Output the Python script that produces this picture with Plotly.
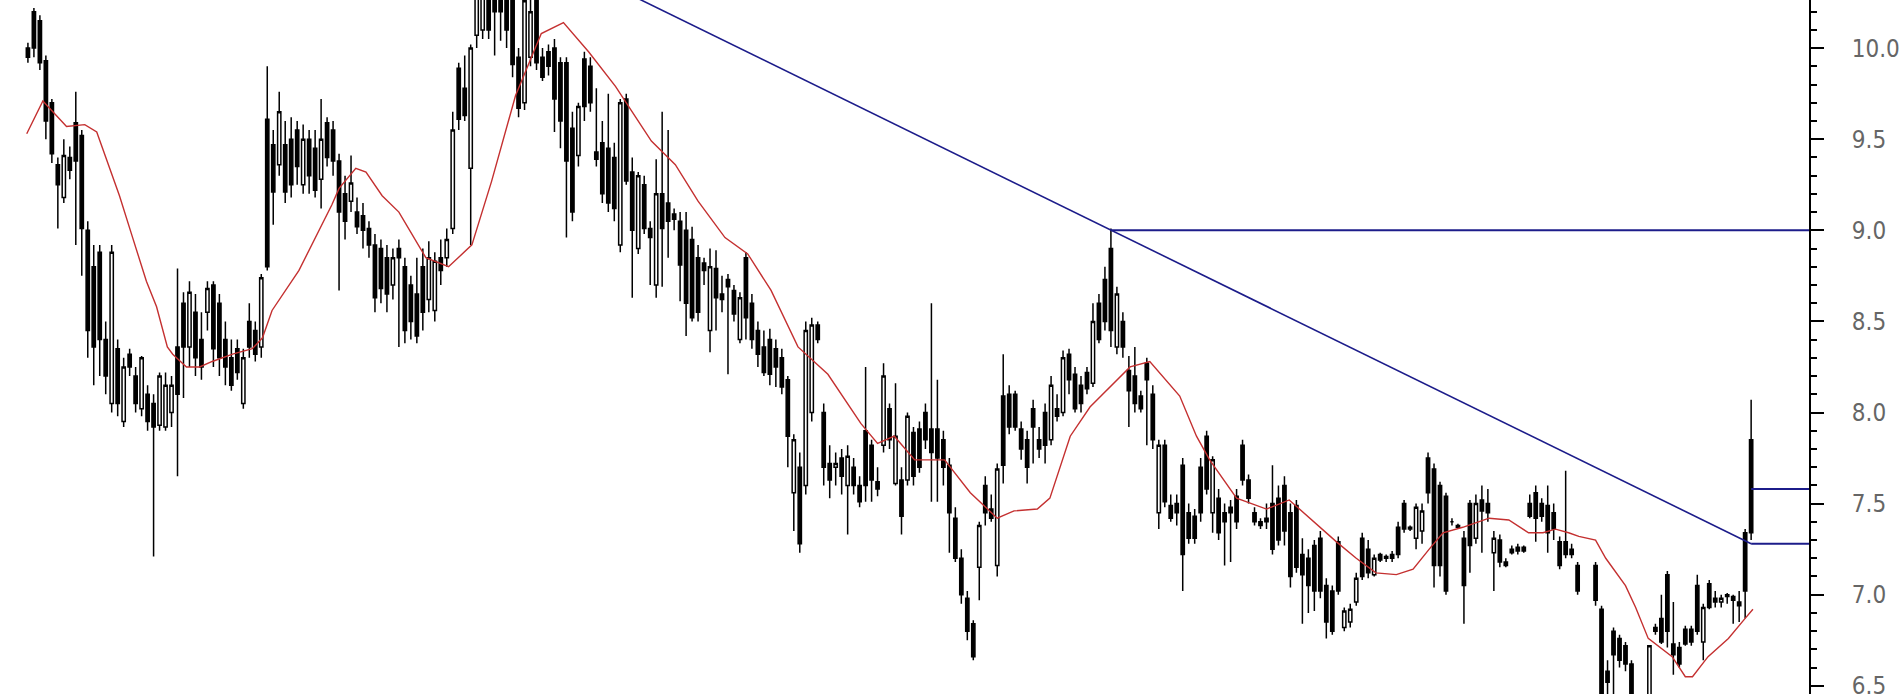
import plotly.graph_objects as go

# ---- candle data (index = trading day) ----
OPEN = [
 10.00,10.20,10.15,9.93,9.70,9.36,9.18,9.40,9.59,9.52,
 9.00,8.80,8.88,8.40,8.05,8.35,7.95,8.32,8.20,8.02,
 8.10,8.05,7.93,7.92,8.00,8.36,8.60,8.36,8.55,8.40,
 8.55,8.70,8.60,8.40,8.30,8.35,8.05,8.50,8.45,8.36,
 9.61,9.47,9.36,9.47,9.50,9.55,9.25,9.50,9.45,9.28,
 9.59,9.55,9.38,9.20,9.16,9.10,9.08,9.01,8.92,8.90,
 8.85,8.70,8.90,8.80,8.70,8.65,8.80,8.62,8.56,8.85,
 8.85,9.01,9.89,9.78,9.34,10.07,10.10,10.35,10.30,10.35,
 10.35,10.30,9.95,9.70,9.95,10.26,9.95,9.98,10.00,9.92,
 9.92,9.56,9.41,9.94,9.90,9.43,9.48,9.45,9.40,8.92,
 9.72,9.32,8.90,9.25,9.01,8.70,9.20,9.15,9.09,9.05,
 9.00,8.95,8.85,8.82,8.45,8.79,8.65,8.73,8.67,8.40,
 8.85,8.60,8.45,8.36,8.40,8.35,8.30,8.18,7.56,7.70,
 7.60,8.00,8.48,8.00,7.72,7.70,7.75,7.60,7.70,7.60,
 7.90,7.82,7.62,7.82,8.02,7.61,7.63,7.63,7.89,7.91,
 8.00,7.91,7.91,7.85,7.71,7.42,7.20,6.98,6.84,7.15,
 7.60,7.47,7.16,8.09,8.10,8.10,7.91,7.85,8.02,7.85,
 8.00,7.85,8.02,8.00,8.32,8.21,8.15,8.22,8.16,8.60,
 8.73,8.90,8.36,8.50,8.23,8.20,8.09,8.27,8.10,7.45,
 7.82,7.49,7.50,7.71,7.45,7.43,7.70,7.87,7.45,7.53,
 7.45,7.48,7.54,7.82,7.63,7.45,7.40,7.42,7.50,7.53,
 7.60,7.45,7.49,7.22,7.20,7.27,7.31,7.05,7.02,7.29,
 6.82,6.85,6.96,7.31,7.25,7.11,7.22,7.20,7.22,7.37,
 7.50,7.37,7.31,7.35,7.75,7.69,7.60,7.54,7.40,7.38,
 7.31,7.50,7.31,7.52,7.50,7.23,7.30,7.18,7.25,7.26,
 7.26,7.50,7.56,7.50,7.49,7.45,7.29,7.29,7.25,7.16,
 None,None,7.16,6.92,6.58,6.80,6.76,6.72,6.62,None,
 None,6.45,6.82,6.87,7.11,6.73,6.71,6.81,6.81,7.05,
 6.74,7.06,6.98,6.96,7.00,6.99,6.96,7.34,7.85,
]
HIGH = [
 10.03,10.22,10.18,9.96,9.72,9.40,9.50,9.46,9.76,9.55,
 9.05,8.92,8.92,8.50,8.92,8.40,8.30,8.35,8.25,8.31,
 8.15,8.10,8.22,8.22,8.20,8.79,8.66,8.72,8.65,8.55,
 8.72,8.72,8.65,8.50,8.40,8.40,8.35,8.60,8.50,8.76,
 9.90,9.55,9.76,9.60,9.62,9.60,9.58,9.55,9.55,9.72,
 9.62,9.60,9.42,9.30,9.41,9.18,9.15,9.05,8.98,8.95,
 8.92,8.90,8.95,8.85,8.75,8.85,8.90,8.94,8.88,8.95,
 9.01,9.65,9.92,9.96,10.02,10.40,10.40,10.40,10.40,10.40,
 10.40,10.40,10.00,10.30,10.35,10.30,10.00,10.02,10.05,9.95,
 9.95,9.65,9.70,9.98,9.95,9.78,9.60,9.75,9.48,9.72,
 9.75,9.40,9.32,9.30,9.05,9.39,9.65,9.55,9.12,9.10,
 9.10,9.02,8.92,8.85,8.90,8.89,8.75,8.76,8.70,8.66,
 8.88,8.65,8.50,8.45,8.46,8.40,8.35,8.20,7.88,7.78,
 8.50,8.52,8.50,8.05,7.82,7.78,7.80,7.82,7.75,7.65,
 8.25,7.85,7.70,8.27,8.05,8.16,7.70,8.00,7.92,7.95,
 8.05,8.60,8.18,7.90,7.75,7.48,7.25,7.02,6.86,7.40,
 7.65,7.55,7.72,8.32,8.15,8.12,7.95,7.90,8.07,7.92,
 8.05,8.20,8.10,8.34,8.35,8.25,8.20,8.25,8.60,8.65,
 8.80,9.01,8.69,8.55,8.31,8.36,8.12,8.30,8.15,7.85,
 7.85,7.55,7.55,7.75,7.50,7.47,7.75,7.90,7.76,7.58,
 7.50,7.52,7.58,7.85,7.66,7.48,7.42,7.50,7.71,7.60,
 7.65,7.50,7.52,7.31,7.25,7.30,7.35,7.09,7.05,7.32,
 6.93,6.95,7.12,7.34,7.30,7.22,7.23,7.22,7.24,7.40,
 7.52,7.38,7.50,7.50,7.78,7.72,7.62,7.56,7.42,7.39,
 7.35,7.52,7.55,7.60,7.58,7.35,7.33,7.20,7.27,7.28,
 7.27,7.55,7.60,7.53,7.60,7.50,7.32,7.68,7.28,7.18,
 None,None,7.18,6.94,6.64,6.82,6.78,6.74,6.64,None,
 None,6.72,6.84,7.00,7.13,6.96,6.74,6.83,6.83,7.11,
 6.95,7.08,7.02,7.00,7.01,7.00,7.02,7.36,8.07,
]
LOW = [
 9.92,9.95,9.88,9.50,9.37,9.01,9.15,9.28,8.92,8.75,
 8.30,8.15,8.20,8.10,8.00,7.98,7.92,8.20,8.00,7.98,
 7.90,7.21,7.90,7.90,7.92,7.65,8.08,8.25,8.20,8.18,
 8.45,8.25,8.20,8.15,8.12,8.18,8.02,8.30,8.28,8.30,
 8.78,9.03,9.30,9.15,9.18,9.25,9.20,9.20,9.18,9.12,
 9.35,9.30,8.67,8.95,9.10,8.98,8.90,8.85,8.55,8.60,
 8.55,8.62,8.36,8.38,8.40,8.38,8.45,8.55,8.50,8.70,
 8.80,8.98,9.55,9.60,8.92,10.00,10.05,10.05,9.96,10.04,
 10.00,9.84,9.62,9.66,9.90,9.88,9.82,9.85,9.54,9.45,
 8.96,9.05,9.35,9.60,9.65,9.35,9.15,9.10,9.05,8.88,
 9.25,8.63,8.87,8.98,8.70,8.63,8.69,8.85,9.00,8.61,
 8.42,8.50,8.50,8.70,8.33,8.45,8.55,8.21,8.50,8.38,
 8.40,8.35,8.25,8.20,8.15,8.14,8.10,7.70,7.35,7.23,
 7.55,7.95,8.38,7.60,7.53,7.60,7.55,7.33,7.55,7.48,
 7.51,7.51,7.54,7.78,7.80,7.60,7.33,7.60,7.60,7.67,
 7.80,7.51,7.51,7.60,7.23,7.18,6.95,6.75,6.64,6.97,
 7.38,7.40,7.10,7.61,7.88,7.90,7.74,7.61,7.72,7.75,
 7.72,7.82,7.95,7.98,8.10,8.00,8.00,8.10,8.14,8.38,
 8.45,8.36,8.32,8.30,7.92,8.00,8.00,7.82,7.80,7.36,
 7.48,7.40,7.38,7.02,7.28,7.28,7.40,7.55,7.34,7.30,
 7.16,7.18,7.36,7.60,7.50,7.38,7.36,7.36,7.22,7.27,
 7.27,7.04,7.12,6.84,6.90,6.91,6.98,6.76,6.78,7.00,
 6.80,6.82,6.94,7.08,7.09,7.10,7.18,7.18,7.18,7.20,
 7.34,7.35,7.25,7.28,7.50,7.04,7.10,7.00,7.38,7.36,
 6.84,7.12,7.28,7.23,7.40,7.02,7.15,7.15,7.22,7.22,
 7.23,7.42,7.29,7.40,7.23,7.30,7.14,7.20,7.20,7.00,
 None,None,6.94,6.40,6.40,6.45,6.60,6.58,6.40,None,
 None,6.40,6.78,6.73,6.71,6.56,6.60,6.72,6.72,6.78,
 6.64,6.92,6.93,6.93,6.95,6.84,6.85,6.87,7.30,
]
CLOSE = [
 9.95,10.00,9.92,9.60,9.42,9.25,9.41,9.33,9.38,9.01,
 8.45,8.36,8.40,8.20,8.88,8.05,8.25,8.25,8.05,8.30,
 7.95,7.92,8.20,8.15,8.15,8.10,8.36,8.66,8.30,8.25,
 8.68,8.35,8.30,8.25,8.15,8.22,8.30,8.36,8.32,8.74,
 8.80,9.21,9.65,9.21,9.25,9.35,9.50,9.30,9.22,9.50,
 9.40,9.38,9.10,9.05,9.26,9.02,9.00,8.92,8.63,8.68,
 8.65,8.85,8.85,8.45,8.50,8.42,8.55,8.85,8.83,8.78,
 8.95,9.55,9.61,9.63,10.00,10.35,10.30,10.10,10.20,10.20,
 10.10,9.91,9.67,10.26,10.20,9.92,9.84,9.90,9.72,9.60,
 9.38,9.10,9.68,9.68,9.70,9.39,9.20,9.15,9.12,9.70,
 9.27,9.00,9.30,9.01,8.96,9.20,9.01,9.05,9.06,8.81,
 8.60,8.52,8.55,8.78,8.80,8.63,8.62,8.69,8.54,8.63,
 8.52,8.40,8.32,8.22,8.21,8.25,8.14,7.87,7.85,7.28,
 8.45,8.48,8.40,7.70,7.63,7.72,7.65,7.76,7.60,7.51,
 7.60,7.63,7.58,8.20,7.85,7.87,7.43,7.98,7.65,7.70,
 7.85,7.78,7.75,7.70,7.45,7.20,7.00,6.80,6.66,7.38,
 7.45,7.42,7.69,7.71,7.92,7.92,7.80,7.70,7.92,7.80,
 7.82,8.15,7.98,8.30,8.18,8.02,8.05,8.13,8.50,8.40,
 8.50,8.45,8.65,8.36,8.12,8.05,8.02,8.18,7.85,7.82,
 7.51,7.42,7.45,7.22,7.31,7.31,7.45,7.58,7.74,7.34,
 7.40,7.45,7.40,7.63,7.53,7.40,7.38,7.40,7.25,7.30,
 7.35,7.10,7.15,7.11,7.05,7.02,7.02,6.85,6.80,7.02,
 6.91,6.92,7.09,7.10,7.12,7.20,7.19,7.21,7.20,7.22,
 7.36,7.36,7.48,7.46,7.56,7.16,7.16,7.02,7.40,7.37,
 7.05,7.27,7.50,7.46,7.45,7.31,7.18,7.16,7.23,7.24,
 7.24,7.43,7.42,7.43,7.34,7.36,7.16,7.22,7.22,7.02,
 None,None,6.97,6.45,6.52,6.67,6.64,6.62,6.45,None,
 None,6.72,6.80,6.74,6.80,6.67,6.62,6.73,6.74,6.80,
 6.93,6.93,6.96,6.98,6.99,6.97,6.94,7.02,7.34,
]

# ---- moving average (day index, value) ----
MA_X = [-0.2, 2.5, 6.45, 9.5, 11.5, 13.7, 15.3, 17.5, 19.8, 21.5, 23.3, 24.2, 26.5, 28.7,
        30.8, 34.2, 37.5, 39.2, 40.8, 45.3, 50.8, 52, 54.8, 56.5, 59.2, 62, 66.5, 70.3,
        74.2, 77.5, 81.5, 85.8, 89.5, 93.7, 98.2, 100.8, 104.2, 108.2, 112, 116.5, 120.3,
        124.2, 128.7, 133.7, 139.2, 142, 144.8, 148.2, 153.2, 157.5, 162, 164.8, 168.7,
        170.8, 174.2, 177.5, 180.8, 184.2, 187.5, 192.5, 195.3, 197.5, 202, 207, 210.8,
        214.2, 218.7, 222, 225.3, 228.7, 231.5, 234.2, 236.5, 239.8, 244.2, 247.5, 250.8,
        253.2, 255.3, 257.5, 259.2, 262, 263.7, 267, 268.7, 270.8, 274.8, 277, 278.2,
        280.8, 284.2, 287, 288.3]
MA_Y = [9.53, 9.71, 9.57, 9.58, 9.54, 9.34, 9.19, 8.96, 8.72, 8.58, 8.36, 8.32, 8.25, 8.25,
        8.28, 8.32, 8.35, 8.41, 8.56, 8.78, 9.14, 9.23, 9.34, 9.32, 9.19, 9.10, 8.85, 8.80,
        8.92, 9.27, 9.74, 10.08, 10.14, 9.98, 9.79, 9.66, 9.49, 9.36, 9.16, 8.96, 8.87,
        8.67, 8.36, 8.21, 7.94, 7.83, 7.87, 7.74, 7.74, 7.56, 7.42, 7.46, 7.47,
        7.53, 7.87, 8.03, 8.14, 8.25, 8.28, 8.09, 7.87, 7.74, 7.53, 7.47, 7.52,
        7.42, 7.29, 7.20, 7.12, 7.11, 7.14, 7.25, 7.34, 7.37, 7.42, 7.41, 7.34,
        7.34, 7.36, 7.34, 7.32, 7.30, 7.20, 7.05, 6.93, 6.76, 6.66, 6.55, 6.55,
        6.66, 6.76, 6.87, 6.92]

# ---- drawn lines ----
TREND_X = [76, 181, 288]
TREND_Y = [10.69, 9.00, 7.28]
LEVEL_Y = [9.00, 7.58, 7.28]
LEVEL_START = [181, 288, 288]

X_RANGE = [-4.667, 297.67]
Y_RANGE = [6.455, 10.264]

idx = list(range(len(OPEN)))
BLUE = "#1c1c8a"

fig = go.Figure()
fig.add_trace(go.Candlestick(
    x=idx, open=OPEN, high=HIGH, low=LOW, close=CLOSE,
    increasing=dict(line=dict(color="black", width=1.5), fillcolor="white"),
    decreasing=dict(line=dict(color="black", width=1.5), fillcolor="black"),
    whiskerwidth=0, showlegend=False, hoverinfo="skip",
))
fig.add_trace(go.Scatter(x=MA_X, y=MA_Y, mode="lines",
                         line=dict(color="#c43030", width=1.4), showlegend=False,
                         hoverinfo="skip"))
fig.add_trace(go.Scatter(x=TREND_X, y=TREND_Y, mode="lines",
                         line=dict(color=BLUE, width=1.6), showlegend=False,
                         hoverinfo="skip"))
for y0, x0 in zip(LEVEL_Y, LEVEL_START):
    fig.add_trace(go.Scatter(x=[x0, X_RANGE[1]], y=[y0, y0], mode="lines",
                             line=dict(color=BLUE, width=2), showlegend=False,
                             hoverinfo="skip"))

fig.update_layout(
    width=1900, height=700,
    margin=dict(l=0, r=86, t=0, b=0),
    paper_bgcolor="white", plot_bgcolor="white",
    boxgap=0.22,
    xaxis=dict(range=X_RANGE, visible=False, rangeslider=dict(visible=False),
               showgrid=False, zeroline=False),
    yaxis=dict(range=Y_RANGE, side="right", showgrid=False, zeroline=False,
               showline=True, linecolor="black", linewidth=2,
               ticks="outside", ticklen=13, tickwidth=2, tickcolor="black",
               dtick=0.5, tick0=0, tickformat=".1f",
               tickfont=dict(family="Liberation Sans Narrow, DejaVu Sans Condensed, Arial Narrow, sans-serif",
                             size=24, color="#666666"),
               ticklabelstandoff=23, ticklabeloverflow="allow",
               minor=dict(ticks="outside", dtick=0.1, ticklen=6, tickwidth=1.5,
                          tickcolor="black")),
)
fig.write_html("out.html", config={"displayModeBar": False},
               post_script="document.body.style.margin='0px';")
